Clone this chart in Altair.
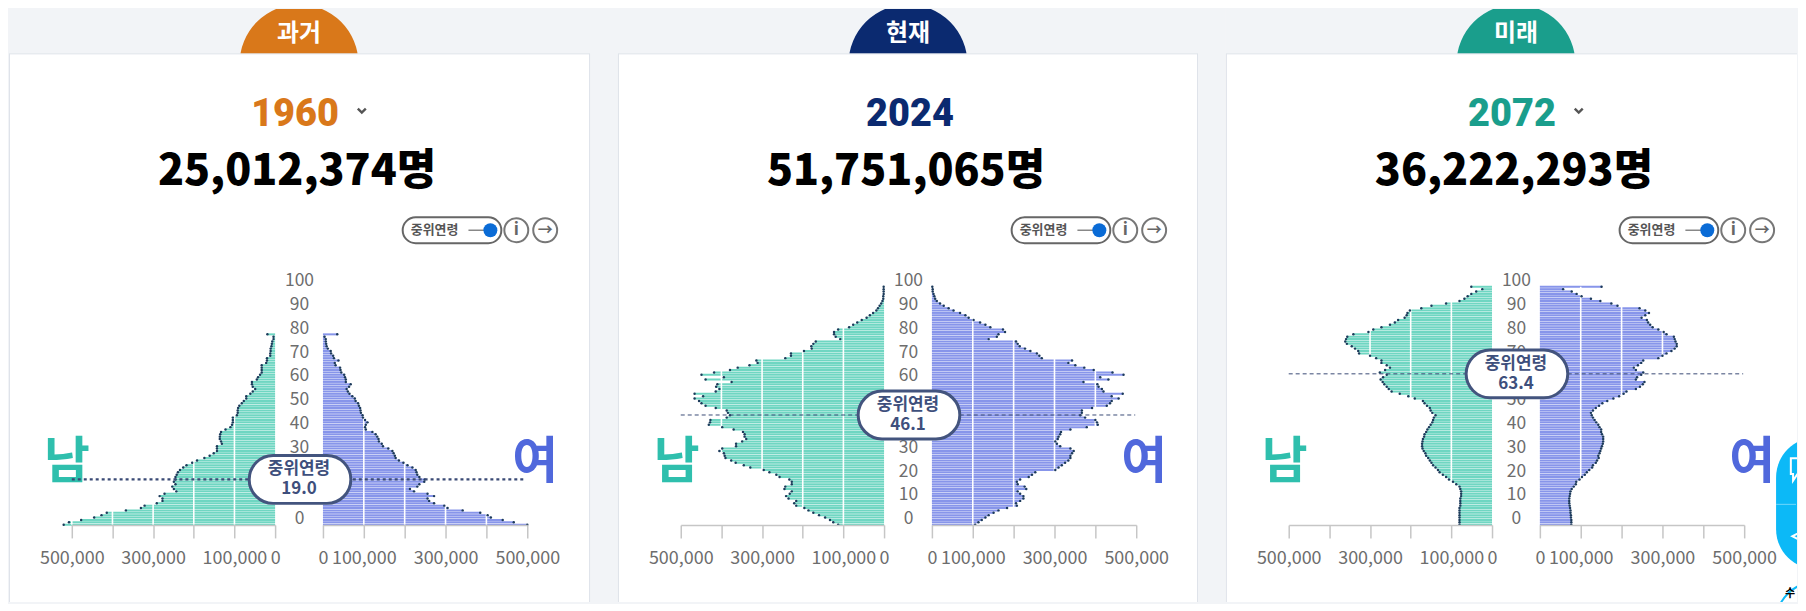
import altair as alt
import pandas as pd

# --- data (thousands of persons by single year of age) ---
male_1960 = [520,507,477,445,427,414,367,330,321,291,277,277,284,272,243,249,253,245,249,245,
             245,242,239,234,226,218,204,192,174,161,151,143,143,143,131,133,136,136,135,133,
             122,110,106,104,104,104,94,92,92,91,88,82,77,71,71,61,55,49,55,57,
             57,45,42,37,33,33,33,33,22,20,20,12,12,11,11,9,8,7,4,4,19]
female_1960 = [500,467,440,411,403,385,342,305,297,272,260,256,272,256,223,213,231,236,248,249,
               236,231,229,227,219,207,197,186,178,176,173,170,160,147,144,137,136,133,129,121,
               105,103,105,109,103,98,97,93,92,91,88,86,80,78,72,65,61,58,64,68,
               56,56,54,52,45,43,42,31,29,38,27,25,20,19,12,9,8,7,7,4,35]
male_2024 = [113,125,133,145,160,174,186,196,216,221,216,235,241,232,227,245,243,227,227,233,
             257,265,282,296,329,345,365,376,390,392,394,405,398,364,364,349,339,343,343,347,
             370,398,431,428,427,387,379,384,387,414,439,449,455,466,445,466,414,405,413,410,
             375,439,394,449,418,379,360,331,311,314,243,229,229,197,178,179,174,168,108,119,
             123,123,113,86,76,66,55,43,35,27,19,15,11,7,4,2,2,1,1,1,1]
female_2024 = [106,114,122,131,139,151,163,184,208,206,216,224,224,216,210,231,227,210,208,216,
               237,245,253,302,310,318,326,334,339,339,343,347,339,314,306,302,308,310,314,316,
               339,379,406,404,400,375,363,367,367,392,428,436,440,457,440,467,420,416,408,405,
               371,432,412,469,442,396,373,351,334,343,269,263,257,241,228,215,210,206,139,159,
               163,179,174,143,131,118,102,90,82,69,53,41,29,20,12,8,6,4,2,2,1]
male_2072 = [80,80,80,80,80,80,80,80,78,78,78,78,76,76,76,78,80,88,96,106,
             113,121,129,133,139,145,149,153,157,162,164,168,171,172,172,171,170,167,166,162,
             159,155,151,147,145,143,139,147,151,153,160,166,170,190,206,227,247,254,259,265,
             269,274,268,259,276,263,251,259,272,272,285,300,327,329,337,345,357,361,359,356,
             341,304,292,272,251,239,231,215,210,208,202,174,149,113,80,68,60,51,39,24,51]
female_2072 = [77,77,77,76,76,75,75,74,73,72,72,72,73,74,75,78,83,88,89,97,
               103,110,115,121,128,130,137,140,144,143,146,148,150,152,154,155,155,155,152,150,
               150,146,143,138,134,130,127,125,130,137,145,153,165,180,194,205,212,235,245,252,
               256,235,238,248,253,235,230,240,248,253,290,300,310,322,330,335,335,332,330,328,
               310,303,290,276,270,265,262,249,258,267,258,244,190,175,148,125,102,90,78,57,151]

x_ticks = [0, 100000, 200000, 300000, 400000, 500000]
grid_ticks = [100000, 200000, 300000, 400000, 500000]
age_ticks = [0, 10, 20, 30, 40, 50, 60, 70, 80, 90, 100]

eras = ["과거", "현재", "미래"]
years = ["1960", "2024", "2072"]
totals = ["25,012,374명", "51,751,065명", "36,222,293명"]
medians = [19.0, 46.1, 63.4]
era_colors = ["#d9781a", "#0b2a70", "#1a9e8c"]
males = [male_1960, male_2024, male_2072]
females = [female_1960, female_2024, female_2072]
widths = [583, 582, 573]
H = 595

KR = "Noto Sans CJK KR"
HEAD = "Roboto"
TEAL, BLUE = "#6fd6c2", "#8795ea"
DOT = "#1c3a5a"
NAVY = "#3e4f7c"
AXC = "#c6c6c6"
BAND = "#f2f4f7"

label_expr = "datum.value==400000||datum.value==200000?'':format(datum.value,',')"


def x_enc(field, side, with_axis=False):
    rng = [267, 63] if side == "L" else [315, 520]
    axis = None
    if with_axis:
        axis = alt.Axis(values=x_ticks, labelExpr=label_expr, title=None, grid=False, orient="bottom",
                        offset=-(H - 517.7), tickSize=13, tickWidth=1.5, tickColor=AXC, domainColor=AXC,
                        domainWidth=1.5, labelFont=KR, labelFontSize=18, labelColor="#6d6d6d",
                        labelPadding=12, labelOverlap=False, labelFlush=False, zindex=1)
    return alt.X(field, type="quantitative", scale=alt.Scale(domain=[0, 500000], range=rng), axis=axis)


y_axis = alt.Axis(values=age_ticks, title=None, grid=False, ticks=False, domain=False, orient="left",
                  offset=-291, labelAlign="center", labelBaseline="middle", labelPadding=0, labelOffset=-6,
                  labelFont=KR, labelFontSize=17.5, labelColor="#6d6d6d", labelOverlap=False, zindex=0)


def y_enc(field):
    return alt.Y(field, type="quantitative", scale=alt.Scale(domain=[0, 100], range=[517.4, 278.7]), axis=y_axis)


def txt(text, x, y, size, color, weight="normal", font=KR, clip=False):
    return alt.Chart(pd.DataFrame({"t": [text]})).mark_text(
        fontSize=size, color=color, fontWeight=weight, font=font, align="center", baseline="middle", clip=clip
    ).encode(x=alt.value(x), y=alt.value(y), text="t:N")


def one():
    return alt.Chart(pd.DataFrame({"k": [1]}))


def circle(x, y, r, fill, stroke=None, sw=0, clip=False):
    kw = dict(filled=True, fill=fill, size=(2 * r) ** 2, opacity=1, clip=clip)
    if stroke:
        kw.update(stroke=stroke, strokeWidth=sw)
    return one().mark_point(**kw).encode(x=alt.value(x), y=alt.value(y))


def card(i):
    w = widths[i]
    ages = list(range(len(males[i])))
    df = pd.DataFrame({
        "age": ages,
        "lo": [a - 0.42 for a in ages],
        "hi": [a + 0.42 for a in ages],
        "m": [v * 1000 for v in males[i]],
        "zero": [0] * len(ages),
    })
    df["f"] = [v * 1000 for v in females[i]]
    grid = pd.DataFrame({"v": grid_ticks, "a0": [0] * len(grid_ticks), "a1": [100] * len(grid_ticks)})
    med = medians[i]
    med_df = pd.DataFrame({"age": [med], "top": [med + 10.05], "bot": [med - 10.05],
                           "t1": ["중위연령"], "t2": [f"{med:.1f}"]})

    layers = [
        # bars come first so that the y axis (behind every mark) is covered by the median pill
        alt.Chart(df).mark_rect(fill=TEAL).encode(x=x_enc("m", "L", True), x2="zero:Q", y=y_enc("lo"), y2="hi:Q"),
        alt.Chart(df).mark_rect(fill=BLUE).encode(x=x_enc("f", "R", True), x2="zero:Q", y=y_enc("lo"), y2="hi:Q"),
        alt.Chart(grid).mark_rule(color="white", strokeWidth=1.6).encode(x=x_enc("v", "L"), y=y_enc("a0"), y2="a1:Q"),
        alt.Chart(grid).mark_rule(color="white", strokeWidth=1.6).encode(x=x_enc("v", "R"), y=y_enc("a0"), y2="a1:Q"),
        alt.Chart(df).mark_circle(size=6, color=DOT, opacity=1).encode(x=x_enc("m", "L"), y=y_enc("age")),
        alt.Chart(df).mark_circle(size=6, color=DOT, opacity=1).encode(x=x_enc("f", "R"), y=y_enc("age")),
        # page band, tab and card edges
        one().mark_rect(fill=BAND).encode(x=alt.value(0), x2=alt.value(w), y=alt.value(0), y2=alt.value(45)),
        circle(291, 55, 59.6, era_colors[i], clip=True),
        one().mark_rect(fill="white").encode(x=alt.value(0), x2=alt.value(w), y=alt.value(45), y2=alt.value(125)),
        one().mark_rule(color="#dfe3ea", strokeWidth=1).encode(x=alt.value(0), x2=alt.value(w), y=alt.value(45)),
        one().mark_rule(color="#dfe3ea", strokeWidth=1).encode(x=alt.value(0.5), y=alt.value(45), y2=alt.value(H)),
        txt(eras[i], 291, 25, 24, "white", "bold"),
        txt(years[i], 293 if i == 1 else 287, 106, 38, era_colors[i], 900, HEAD),
        txt(totals[i], 289, 164, 43, "black", 900),
        # toggle and buttons
        one().mark_rect(fill="white", stroke="#666666", strokeWidth=2, cornerRadius=13).encode(
            x=alt.value(395), x2=alt.value(494), y=alt.value(209), y2=alt.value(235)),
        txt("중위연령", 427, 222, 13, "#555555", "bold"),
        one().mark_rule(color="#888888", strokeWidth=1.5).encode(
            x=alt.value(461), x2=alt.value(484), y=alt.value(222)),
        circle(483, 222, 7, "#0a6bd6"),
        circle(509, 222, 12, "white", "#777777", 2),
        txt("i", 509, 222, 17, "#666666", "bold"),
        circle(538, 222, 12, "white", "#777777", 2),
        txt("→", 538, 222, 15, "#666666", "bold"),
        txt("남", 58 if i == 0 else 59, 456, 50, "#2fbfad", "bold"),
        txt("여", 528, 456, 50, "#5068dc", "bold"),
        # median
        alt.Chart(med_df).mark_rule(
            color="#3a4a75", strokeWidth=2.2 if i == 0 else 1, strokeDash=[3, 3] if i == 0 else [4, 3]
        ).encode(x=alt.value(63), x2=alt.value(519), y=y_enc("age")),
        alt.Chart(med_df).mark_rect(fill="white", stroke="#43547e", strokeWidth=3, cornerRadius=24).encode(
            x=alt.value(241), x2=alt.value(343), y=y_enc("top"), y2="bot:Q"),
        alt.Chart(med_df).mark_text(font=KR, fontSize=17, fontWeight="bold", color=NAVY, dy=-10,
                                    align="center", baseline="middle").encode(
            x=alt.value(291), y=y_enc("age"), text="t1:N"),
        alt.Chart(med_df).mark_text(font=KR, fontSize=17, fontWeight="bold", color=NAVY, dy=10,
                                    align="center", baseline="middle").encode(
            x=alt.value(291), y=y_enc("age"), text="t2:N"),
    ]
    if i < 2:
        layers.append(one().mark_rule(color="#dfe3ea", strokeWidth=1).encode(
            x=alt.value(w - 0.5), y=alt.value(45), y2=alt.value(H)))
    if i != 1:
        layers.append(one().mark_point(shape="M-1,-0.5L0,0.5L1,-0.5", filled=False, stroke="#555555",
                                       strokeWidth=2.4, size=64, opacity=1).encode(
            x=alt.value(354), y=alt.value(102)))
    if i == 2:
        layers += [
            one().mark_rect(fill="#0cb9f7", cornerRadius=40, clip=True).encode(
                x=alt.value(552), x2=alt.value(640), y=alt.value(430), y2=alt.value(562)),
            one().mark_rule(color="#6fd8fb", strokeWidth=1, clip=True).encode(
                x=alt.value(552), x2=alt.value(572), y=alt.value(497)),
            one().mark_point(shape="M-1,-1H1V0.4H-0.4L-0.8,1V0.4H-1Z", filled=False, stroke="white", strokeWidth=2,
                             size=500, opacity=1, clip=True).encode(x=alt.value(578), y=alt.value(462)),
            one().mark_point(shape="M1,-1L-1,0L1,1", filled=False, stroke="white", strokeWidth=2,
                             size=300, opacity=1, clip=True).encode(x=alt.value(577), y=alt.value(529)),
            circle(592, 615, 40, "white", "#0cb9f7", 2, clip=True),
            txt("수", 566, 587, 11, "black", "bold"),
        ]
    return alt.layer(*layers).resolve_scale(x="independent").properties(width=w, height=H)


chart = (
    alt.hconcat(card(0), card(1), card(2), spacing=26)
    .properties(background=BAND, padding=0)
    .configure_view(strokeWidth=0, fill="white")
)
chart.save("out.html", embed_options={"renderer": "svg", "actions": False})
